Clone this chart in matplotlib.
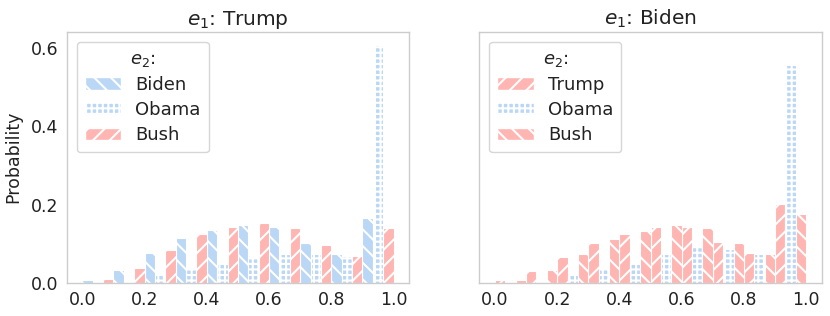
import numpy as np
import matplotlib
matplotlib.use("Agg")
import matplotlib.pyplot as plt
from matplotlib.patches import Patch

# ---- data ----
bin_edges = [0.0, 0.1, 0.2, 0.3, 0.4, 0.5, 0.6, 0.7, 0.8, 0.9, 1.0]

left_title = "Trump"
left_labels = ["Biden", "Obama", "Bush"]
left_biden = [0.007, 0.034, 0.075, 0.115, 0.135, 0.148, 0.143, 0.103, 0.074, 0.165]
left_obama = [0.000, 0.003, 0.020, 0.035, 0.051, 0.064, 0.074, 0.074, 0.069, 0.609]
left_bush = [0.009, 0.039, 0.084, 0.125, 0.143, 0.154, 0.141, 0.096, 0.069, 0.141]

right_title = "Biden"
right_labels = ["Trump", "Obama", "Bush"]
right_trump = [0.006, 0.030, 0.065, 0.102, 0.124, 0.143, 0.142, 0.105, 0.077, 0.201]
right_obama = [0.000, 0.003, 0.021, 0.035, 0.054, 0.073, 0.091, 0.086, 0.073, 0.556]
right_bush = [0.007, 0.032, 0.073, 0.111, 0.133, 0.148, 0.141, 0.102, 0.073, 0.176]

yticks = [0.0, 0.2, 0.4, 0.6]
xticks = [0.0, 0.2, 0.4, 0.6, 0.8, 1.0]

# ---- style ----
BLUE = "#bad7f5"
PINK = "#ffb5b1"
SPINE = "#cccccc"
plt.rcParams['font.family'] = ['DejaVu Sans']
plt.rcParams['hatch.color'] = 'white'
plt.rcParams['hatch.linewidth'] = 1.5

fig, axes = plt.subplots(1, 2, figsize=(8.3, 3.16), dpi=100, sharey=True)
fig.subplots_adjust(left=0.0805, right=0.99, bottom=0.105, top=0.90, wspace=0.205)

edges = np.array(bin_edges)
bw = np.diff(edges)
n = 3
w = bw / n


def draw(ax, title, labels, series, colors, hatches):
    handles = []
    for i, (vals, c, h, lab) in enumerate(zip(series, colors, hatches, labels)):
        ax.bar(edges[:-1] + i * w, vals, width=w, align='edge', color=c,
               edgecolor='white', linewidth=0.8, hatch=h, zorder=2)
        handles.append(Patch(facecolor=c, edgecolor='white', hatch=h, label=lab))
    ax.set_title(f"$e_1$: {title}", fontsize=14.5, color="#222222", pad=5)
    ax.set_xlim(-0.05, 1.05)
    ax.set_ylim(0, 0.642)
    ax.set_xticks(xticks)
    ax.set_xticklabels([f"{t:.1f}" for t in xticks])
    ax.set_yticks(yticks)
    ax.set_yticklabels([f"{t:.1f}" for t in yticks])
    ax.tick_params(axis='both', length=0, labelsize=12.5, colors="#222222", pad=6)
    for s in ax.spines.values():
        s.set_color(SPINE)
        s.set_linewidth(1.0)
    leg = ax.legend(handles=handles, title="$e_2$:", loc="upper left",
                    fontsize=13, title_fontsize=13, frameon=True,
                    borderpad=0.45, labelspacing=0.4, handletextpad=0.8,
                    handlelength=2.0,
                    bbox_to_anchor=(0.0, 1.0), borderaxespad=0.55)
    leg.get_frame().set_edgecolor(SPINE)
    leg.get_frame().set_linewidth(1.0)
    for t in leg.get_texts():
        t.set_color("#222222")
    leg.get_title().set_color("#222222")


draw(axes[0], left_title, left_labels, [left_biden, left_obama, left_bush],
     [BLUE, BLUE, PINK], ['\\\\', '+++', '//'])
draw(axes[1], right_title, right_labels, [right_trump, right_obama, right_bush],
     [PINK, BLUE, PINK], ['//', '+++', '\\\\'])

axes[0].set_ylabel("Probability", fontsize=12.5, color="#222222", labelpad=6)
axes[1].tick_params(axis='y', labelleft=False)

fig.savefig("out.png", dpi=100, facecolor='white')
